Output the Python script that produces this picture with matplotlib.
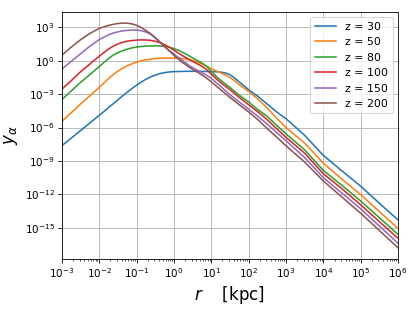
import matplotlib
matplotlib.use("Agg")
import matplotlib.pyplot as plt
import matplotlib.ticker as ticker
import numpy as np

# log10(r / kpc) sampling used for all curves
log_r = [-3, -2.75, -2.5, -2.25, -2,
         -1.75, -1.625, -1.5, -1.375, -1.25, -1.125, -1, -0.875,
         -0.75, -0.625, -0.5, -0.375, -0.25, -0.125, 0, 0.125,
         0.25, 0.375, 0.5, 0.625, 0.75, 0.875, 1, 1.125,
         1.25, 1.375, 1.5, 1.625, 1.75, 1.875, 2,
         2.25, 2.5, 2.75, 3, 3.5, 4, 4.5, 5, 5.5, 6]

# log10(y_alpha)
log_y_z30 = [-7.64, -6.96, -6.28, -5.59, -4.91,
             -4.22, -3.87, -3.52, -3.17, -2.83, -2.5, -2.2, -1.92,
             -1.67, -1.46, -1.29, -1.16, -1.07, -1.01, -0.98, -0.97,
             -0.96, -0.95, -0.95, -0.95, -0.96, -0.97, -0.98, -0.99,
             -1.02, -1.1, -1.25, -1.55, -1.9, -2.25, -2.6,
             -3.2, -3.9, -4.6, -5.2, -6.7, -8.5, -9.9, -11.27, -12.8, -14.3]
log_y_z50 = [-5.45, -4.68, -3.9, -3.15, -2.4,
             -1.6, -1.25, -0.95, -0.68, -0.46, -0.28, -0.13, 0.0,
             0.08, 0.14, 0.19, 0.22, 0.24, 0.24, 0.24, 0.22,
             0.18, 0.12, 0.02, -0.12, -0.28, -0.5, -0.72, -0.9,
             -1.08, -1.28, -1.5, -1.8, -2.15, -2.45, -2.75,
             -3.45, -4.25, -5.15, -6.0, -7.4, -9.2, -10.65, -12.03, -13.55, -15.06]
log_y_z80 = [-3.5, -2.72, -1.95, -1.25, -0.53,
             0.2, 0.5, 0.72, 0.9, 1.04, 1.15, 1.23, 1.28,
             1.31, 1.33, 1.34, 1.33, 1.29, 1.21, 1.09, 0.93,
             0.73, 0.5, 0.25, 0.02, -0.2, -0.5, -0.95, -1.38,
             -1.75, -2.08, -2.4, -2.75, -3.1, -3.4, -3.7,
             -4.4, -5.0, -5.8, -6.57, -8.0, -9.85, -11.2, -12.6, -14.1, -15.6]
log_y_z100 = [-2.55, -1.8, -1.0, -0.3, 0.4,
              1.05, 1.3, 1.5, 1.65, 1.75, 1.81, 1.85, 1.87,
              1.86, 1.83, 1.75, 1.62, 1.45, 1.22, 0.95, 0.67,
              0.42, 0.18, -0.05, -0.28, -0.5, -0.8, -1.2, -1.6,
              -1.95, -2.28, -2.6, -2.95, -3.3, -3.62, -3.95,
              -4.6, -5.3, -6.1, -6.88, -8.3, -10.15, -11.5, -12.94, -14.45, -15.95]
log_y_z150 = [-0.76, -0.06, 0.62, 1.3, 1.9,
              2.33, 2.48, 2.59, 2.68, 2.73, 2.76, 2.76, 2.7,
              2.58, 2.38, 2.05, 1.65, 1.25, 0.92, 0.6, 0.28,
              -0.03, -0.35, -0.62, -0.85, -1.08, -1.3, -1.58, -1.95,
              -2.3, -2.68, -3.05, -3.38, -3.7, -4.02, -4.35,
              -5.0, -5.7, -6.45, -7.18, -8.7, -10.5, -11.9, -13.3, -14.85, -16.4]
log_y_z200 = [0.48, 1.22, 1.88, 2.45, 2.9,
              3.17, 3.27, 3.34, 3.38, 3.37, 3.31, 3.18, 2.98,
              2.72, 2.43, 2.08, 1.7, 1.3, 0.88, 0.48, 0.12,
              -0.2, -0.5, -0.78, -1.02, -1.28, -1.56, -1.9, -2.25,
              -2.6, -2.95, -3.3, -3.62, -3.95, -4.28, -4.6,
              -5.3, -6.1, -6.85, -7.64, -9.1, -10.8, -12.25, -13.7, -15.25, -16.8]

redshifts = [30, 50, 80, 100, 150, 200]
curves = [log_y_z30, log_y_z50, log_y_z80, log_y_z100, log_y_z150, log_y_z200]

fig = plt.figure(figsize=(415 / 75, 312 / 75), dpi=75)
ax = fig.add_subplot(111)
fig.subplots_adjust(left=0.149, right=0.959, top=0.962, bottom=0.170)

r = 10.0 ** np.array(log_r)
for z, log_y in zip(redshifts, curves):
    ax.plot(r, 10.0 ** np.array(log_y), label='z = %d' % z)

ax.set_xscale('log')
ax.set_yscale('log')
ax.set_xlim(1e-3, 1e6)
ax.xaxis.set_major_locator(ticker.LogLocator(base=10, numticks=20))
ax.xaxis.set_minor_locator(ticker.LogLocator(base=10, subs=np.arange(2, 10), numticks=20))
ax.set_yticks([10.0 ** k for k in range(-15, 4, 3)])
ax.yaxis.set_minor_locator(ticker.NullLocator())
ax.xaxis.set_minor_formatter(ticker.NullFormatter())

ax.set_xlabel(r'$r$    [kpc]', fontsize=16)
ax.set_ylabel(r'$y_\alpha$', fontsize=16)
ax.grid(True)
ax.legend(loc='upper right', fontsize=10.5)

fig.savefig('out.png', dpi=75)
